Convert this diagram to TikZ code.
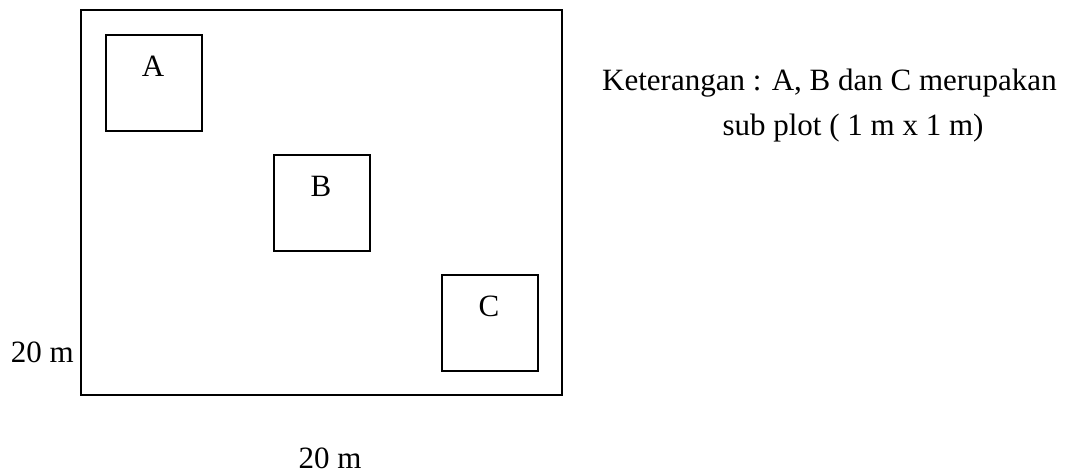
\documentclass[tikz,border=0pt]{standalone}
\usepackage{fontspec}
\setmainfont{Liberation Serif}
\begin{document}
\begin{tikzpicture}[x=1pt,y=-1pt,
  box/.style={draw,line width=1.6pt},
  sub/.style={draw,line width=1.4pt,minimum width=96pt,minimum height=96pt,inner sep=0pt},
  lbl/.style={font=\fontsize{31}{37}\selectfont,inner sep=0pt,text depth=0pt}]
\useasboundingbox (0,0) rectangle (1078,475);
\draw[box] (81,10) rectangle (562,395);
\node[sub] (A) at (154,83) {};
\node[sub] (B) at (322,203) {};
\node[sub] (C) at (490,323) {};
\node[lbl,anchor=base] (la) at (153,76) {A};
\node[lbl,anchor=base] (lb) at (321,196) {B};
\node[lbl,anchor=base] (lc) at (489,316) {C};
\node[lbl,anchor=base east] (h) at (74,362) {20 m};
\node[lbl,anchor=base] (w) at (330,468) {20 m};
\node[lbl,anchor=base west] (k1) at (602,90) {Keterangan : A, B dan C merupakan};
\node[lbl,anchor=base] (k2) at (853,135) {sub plot ( 1 m x 1 m)};
\end{tikzpicture}
\end{document}
